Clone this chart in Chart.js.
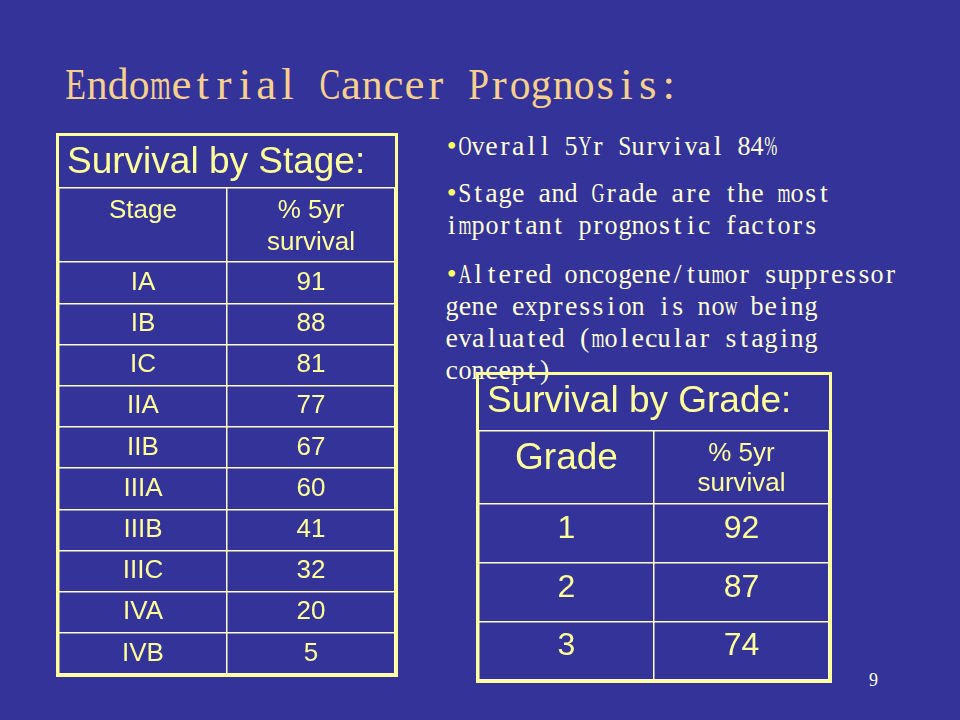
<!DOCTYPE html>
<html><head><meta charset="utf-8">
<script src="https://cdn.jsdelivr.net/npm/chart.js@4.4.1/dist/chart.umd.min.js"></script>
<style>
html,body{margin:0;padding:0;width:960px;height:720px;background:#333399;overflow:hidden;}
.mono{position:absolute;white-space:pre;font-family:"Liberation Serif",serif;}
.mono .c{display:inline-flex;justify-content:center;overflow:visible;}
.mono .g{display:inline-block;}
.tbl{position:absolute;box-sizing:border-box;border:3px solid #FFFF99;}
.tbl .inner{position:relative;width:100%;height:100%;}
</style></head><body>
<div id="textLayer"></div>
<div class="tbl" style="left:56px;top:133px;width:342px;height:544px;"><div class="inner"><canvas id="stageChart"></canvas></div></div>
<div class="tbl" style="left:476px;top:372px;width:356px;height:311px;"><div class="inner"><canvas id="gradeChart"></canvas></div></div>
<script>
// ---- data ----
const slideTitle = 'Endometrial Cancer Prognosis:';
const bullets = [
  ['Overall 5Yr Survival 84%'],
  ['Stage and Grade are the most', 'important prognostic factors'],
  ['Altered oncogene/tumor suppressor', 'gene expression is now being', 'evaluated (molecular staging', 'concept)']
];
const pageNumber = '9';

const stageTitle = 'Survival by Stage:';
const stageHeader = ['Stage', '% 5yr\nsurvival'];
const stageLabels = ['IA', 'IB', 'IC', 'IIA', 'IIB', 'IIIA', 'IIIB', 'IIIC', 'IVA', 'IVB'];
const stageSurvival = [91, 88, 81, 77, 67, 60, 41, 32, 20, 5];

const gradeTitle = 'Survival by Grade:';
const gradeHeader = ['Grade', '% 5yr\nsurvival'];
const gradeLabels = ['1', '2', '3'];
const gradeSurvival = [92, 87, 74];

// ---- slide text (monospaced serif look) ----
const layer = document.getElementById('textLayer');
const mctx = document.createElement('canvas').getContext('2d');
function monoLine(text, left, baseline, fontPx, cell, maxScale, color, firstColor) {
  const d = document.createElement('div');
  d.className = 'mono';
  const lh = Math.round(fontPx * 1.2);
  d.style.fontSize = fontPx + 'px';
  d.style.lineHeight = lh + 'px';
  d.style.left = left + 'px';
  const base = (lh - 1.107 * fontPx) / 2 + 0.891 * fontPx;
  d.style.top = (baseline - base) + 'px';
  d.style.color = color;
  mctx.font = fontPx + 'px "Liberation Serif"';
  let i = 0;
  for (const ch of text) {
    const c = document.createElement('span');
    c.className = 'c';
    c.style.width = cell + 'px';
    const g = document.createElement('span');
    g.className = 'g';
    g.textContent = ch;
    const w = mctx.measureText(ch).width || 1;
    const s = Math.min(maxScale, (cell * 0.98) / w);
    g.style.transform = 'scaleX(' + s.toFixed(3) + ')';
    if (i === 0 && firstColor) g.style.color = firstColor;
    c.appendChild(g);
    d.appendChild(c);
    i++;
  }
  layer.appendChild(d);
}
monoLine(slideTitle, 65, 99, 45, 21.2, 1.0, '#F8D08E');
const paraTops = [155, 202, 283];
bullets.forEach((lines, p) => {
  lines.forEach((ln, k) => {
    const txt = k === 0 ? '\u2022' + ln : ln;
    monoLine(txt, 445, paraTops[p] + k * 32, 28, 13.3, 1.0, '#FFFFD6', k === 0 ? '#FFFF66' : null);
  });
});
const pn = document.createElement('div');
pn.textContent = pageNumber;
pn.style.cssText = 'position:absolute;left:869px;top:669px;font:18px "Liberation Serif",serif;line-height:22px;color:#FFFFE0;';
layer.appendChild(pn);

// ---- tables drawn with Chart.js ----
const tablePlugin = {
  id: 'tableText',
  afterDatasetsDraw(chart, args, o) {
    const { ctx, chartArea } = chart;
    const xs = chart.scales.x;
    ctx.save();
    ctx.fillStyle = o.color;
    ctx.font = o.titleFont;
    ctx.textAlign = 'left';
    ctx.textBaseline = 'alphabetic';
    ctx.fillText(o.title, chartArea.left + o.titleIndent, o.titleBaseline);
    ctx.textAlign = 'center';
    ctx.textBaseline = 'middle';
    o.header.forEach((h, c) => {
      ctx.font = o.headerFonts[c];
      h.split('\n').forEach((ln, k) => {
        ctx.fillText(ln, xs.getPixelForValue(c + 0.5), chartArea.top + o.headerOffsets[c] + k * o.headerLineGap);
      });
    });
    ctx.font = o.cellFont;
    chart.data.datasets.forEach((ds, di) => {
      chart.getDatasetMeta(di).data.forEach((el, i) => {
        ctx.fillText(String(ds.data[i].text), el.x, el.y + o.cellShift);
      });
    });
    ctx.restore();
  }
};

function makeTable(id, title, header, labels, values, st) {
  const H = st.headerUnits;
  const n = labels.length;
  const edges = [0];
  for (let i = 0; i <= n; i++) edges.push(H + i);
  const col = (arr, c) => arr.map((t, i) => ({ x: c + 0.5, y: H + i + 0.5, text: t }));
  const gridOpts = { color: '#FFFFCC', lineWidth: 1.5, drawTicks: false };
  new Chart(document.getElementById(id), {
    type: 'scatter',
    data: { datasets: [
      { data: col(labels, 0), pointRadius: 0 },
      { data: col(values, 1), pointRadius: 0 }
    ] },
    options: {
      responsive: true, maintainAspectRatio: false, animation: false, events: [],
      layout: { padding: { top: st.titleRow, left: 0, right: 0, bottom: 0 } },
      plugins: {
        legend: { display: false }, tooltip: { enabled: false },
        tableText: {
          color: '#FFFF99', title: title, titleFont: '37px "Liberation Sans", Arial, sans-serif',
          titleIndent: 8, titleBaseline: 37,
          header: header, headerFonts: st.headerFonts, headerOffsets: st.headerOffsets, headerLineGap: st.headerLineGap,
          cellFont: st.cellFont, cellShift: st.cellShift
        }
      },
      scales: {
        x: { type: 'linear', min: 0, max: 2,
             afterBuildTicks: ax => { ax.ticks = [0, 1, 2].map(v => ({ value: v })); },
             ticks: { display: false }, grid: gridOpts, border: { display: false } },
        y: { type: 'linear', reverse: true, min: 0, max: H + n,
             afterBuildTicks: ax => { ax.ticks = edges.map(v => ({ value: v })); },
             ticks: { display: false }, grid: gridOpts, border: { display: false } }
      }
    },
    plugins: [tablePlugin]
  });
}

makeTable('stageChart', stageTitle, stageHeader, stageLabels, stageSurvival, {
  titleRow: 52, headerUnits: 1.8,
  headerFonts: ['26px "Liberation Sans", Arial, sans-serif', '26px "Liberation Sans", Arial, sans-serif'],
  headerOffsets: [23, 23], headerLineGap: 32,
  cellFont: '26px "Liberation Sans", Arial, sans-serif', cellShift: 0
});
makeTable('gradeChart', gradeTitle, gradeHeader, gradeLabels, gradeSurvival, {
  titleRow: 56, headerUnits: 1.244,
  headerFonts: ['37px "Liberation Sans", Arial, sans-serif', '26px "Liberation Sans", Arial, sans-serif'],
  headerOffsets: [28, 23], headerLineGap: 30,
  cellFont: '32px "Liberation Sans", Arial, sans-serif', cellShift: -4
});
</script>
</body></html>
